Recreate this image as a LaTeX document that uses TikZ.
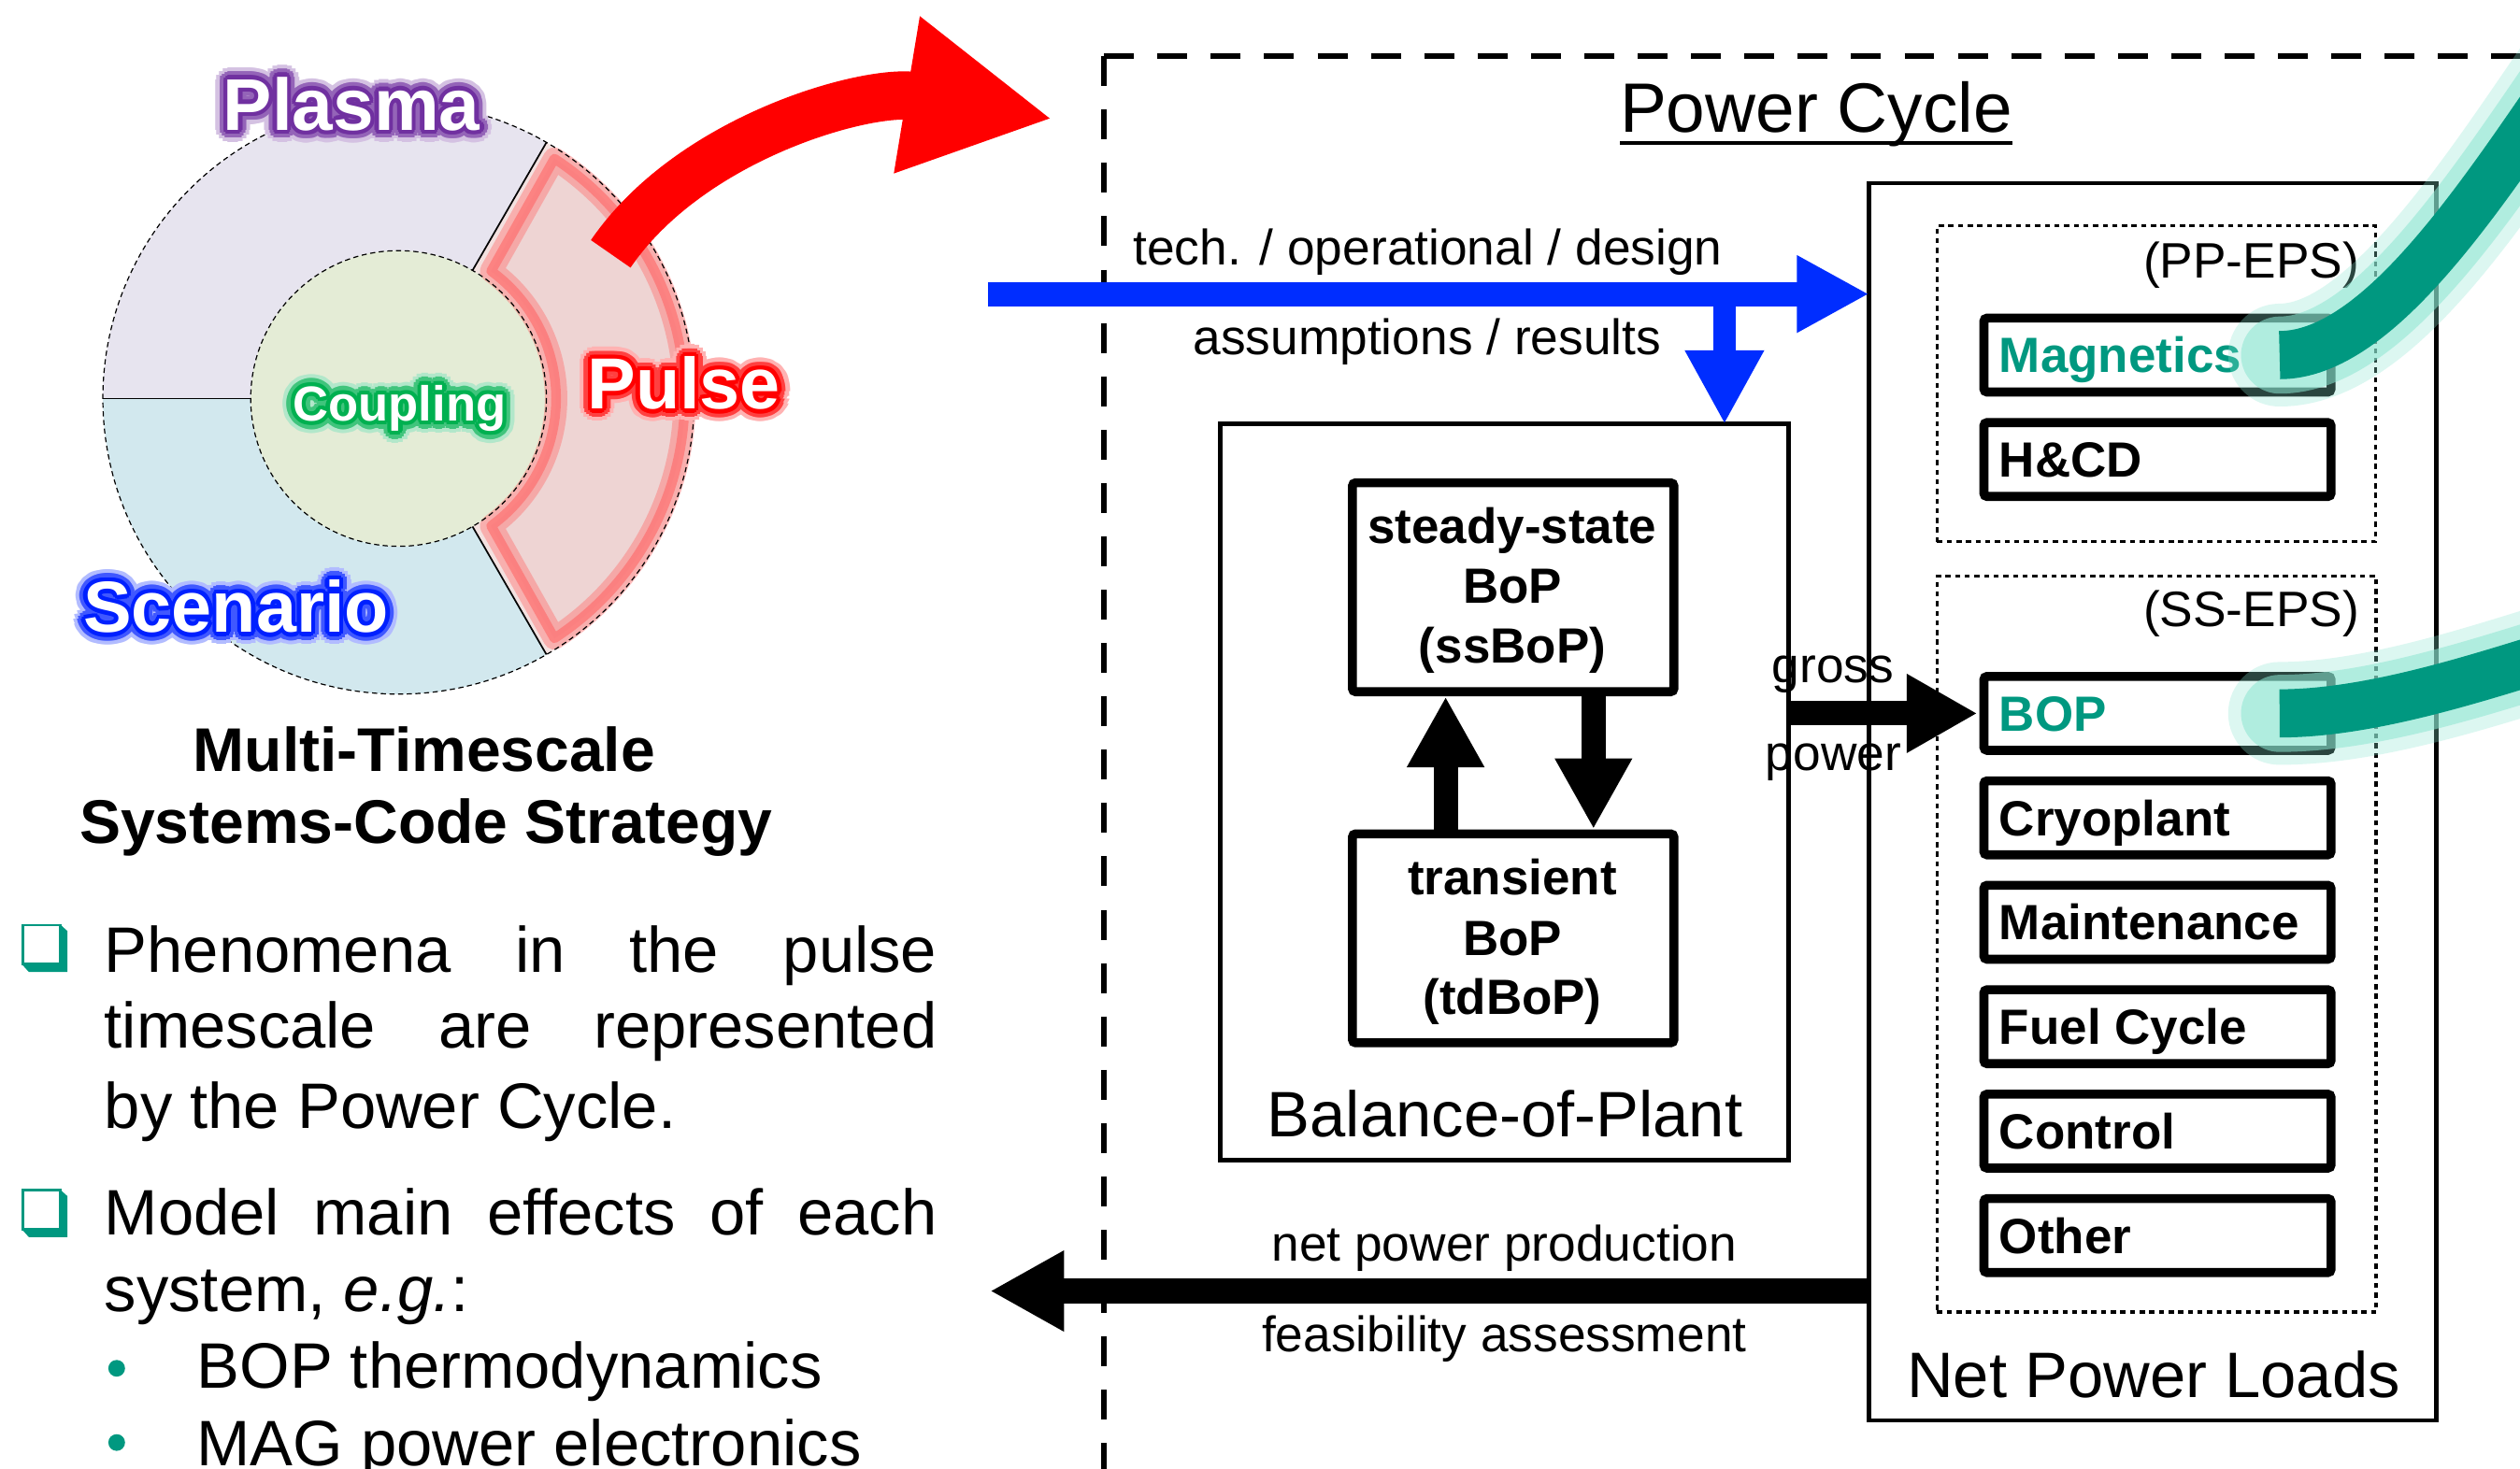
\documentclass[tikz,border=0pt]{standalone}
\usepackage{fontspec}
\setmainfont{Liberation Sans}
\usetikzlibrary{arrows.meta}
\newcommand{\fsz}[1]{\fontsize{#1pt}{#1pt}\selectfont}
\definecolor{teal1}{RGB}{0,152,128}
\definecolor{tealglow}{RGB}{140,230,210}
\definecolor{plasmafill}{RGB}{231,228,239}
\definecolor{scenfill}{RGB}{210,232,238}
\definecolor{coupfill}{RGB}{228,236,214}
\definecolor{pulsefill}{RGB}{238,212,211}
\definecolor{bluearrow}{RGB}{0,45,255}
\definecolor{plasmaglow}{RGB}{112,48,160}
\definecolor{coupglow}{RGB}{0,176,80}
\definecolor{pulseglow}{RGB}{255,0,0}
\definecolor{scenglow}{RGB}{0,32,255}
\newcommand{\glowlabel}[5]{%
  \foreach \gang in {0,22.5,...,337.5}{%
    \node[font=\bfseries\fsz{#4}, anchor=base, text=#3!30, shift={(\gang:3.8pt)}] at #2 {#5};
  }%
  \foreach \gang in {0,22.5,...,337.5}{%
    \node[font=\bfseries\fsz{#4}, anchor=base, text=#3!75, shift={(\gang:2.5pt)}] at #2 {#5};
  }%
  \foreach \gang in {0,30,...,330}{%
    \node[font=\bfseries\fsz{#4}, anchor=base, text=#3, shift={(\gang:1.3pt)}] at #2 {#5};
  }%
  \node[font=\bfseries\fsz{#4}, anchor=base, text=white] (#1) at #2 {#5};
}
\tikzset{
  every node/.style={inner sep=0pt, outer sep=0pt},
  lbl/.style={font=\fsz{15.5}, anchor=base},
  boxtxt/.style={font=\bfseries\fsz{15.4}, anchor=base},
  bigtxt/.style={font=\fsz{20}, anchor=base},
  btxt/.style={font=\fsz{20}, anchor=base west},
  loadlbl/.style={font=\bfseries\fsz{15.4}, anchor=base west},
  loadbox/.style={draw, line width=2.8pt, rounded corners=1pt, minimum width=108pt, minimum height=23pt},
  bopinner/.style={draw, line width=2.8pt, rounded corners=1pt, minimum width=100pt, minimum height=65pt},
  thinbox/.style={draw, line width=1.4pt},
  dotbox/.style={draw, line width=1.1pt, dash pattern=on 1.6pt off 1.4pt},
  pcframe/.style={line width=1.75pt, dash pattern=on 9.3pt off 7.3pt},
  dashthin/.style={line width=0.35pt, dash pattern=on 1.6pt off 1.1pt},
  bluearr/.style={bluearrow, line width=7.5pt, -{Triangle[length=22.5pt,width=22.5pt]}},
  bluearrdown/.style={bluearrow, line width=7pt, -{Triangle[length=23pt,width=23pt]}},
  blkarr/.style={black, line width=7.6pt, -{Triangle[length=22pt,width=23pt]}},
  vertarr/.style={black, line width=7.5pt, -{Triangle[length=22pt,width=22.5pt]}},
  redarr/.style={red, line width=15pt, -{Triangle[length=46pt,width=46pt]}},
  tealglowline/.style={tealglow, line cap=round},
  tealband/.style={teal1, line width=15pt},
}
\begin{document}
\begin{tikzpicture}[x=0.5pt,y=-0.5pt]
\useasboundingbox (0,0) rectangle (1568,914);
\clip (0,0) rectangle (1568,914);
\fill[white] (0,0) rectangle (1568,914);

% ---------------- left ring diagram ----------------
\begin{scope}[shift={(248,248)}]
  \fill[plasmafill] (180:184) arc[start angle=180,end angle=300,radius=184] -- (300:92) arc[start angle=300,end angle=180,radius=92] -- cycle;
  \fill[scenfill] (60:184) arc[start angle=60,end angle=180,radius=184] -- (180:92) arc[start angle=180,end angle=60,radius=92] -- cycle;
  \fill[pulsefill!70!white] (-60:184) arc[start angle=-60,end angle=60,radius=184] -- (60:92) arc[start angle=60,end angle=-60,radius=92] -- cycle;
  \fill[coupfill] (0,0) circle[radius=92];
  \draw[red!55!white, line width=7pt, opacity=0.45, line join=round, fill=pulsefill, fill opacity=1]
     (-57:178) arc[start angle=-57,end angle=57,radius=178] -- (54:98) arc[start angle=54,end angle=-54,radius=98] -- cycle;
  \draw[red!60!white, line width=3pt, opacity=0.6, line join=round]
     (-57:178) arc[start angle=-57,end angle=57,radius=178] -- (54:98) arc[start angle=54,end angle=-54,radius=98] -- cycle;
  \draw[dashthin] (0,0) circle[radius=184];
  \draw[dashthin] (0,0) circle[radius=92];
  \draw[line width=0.5pt] (180:92) -- (180:184);
  \draw[line width=0.5pt] (-60:92) -- (-60:184);
  \draw[line width=0.5pt] (60:92) -- (60:184);
\end{scope}

% red curved arrow
\coordinate (rtail) at (380,158);
\coordinate (rtip) at (655,74);
\draw[redarr] (rtail) .. controls (430,85) and (540,55) .. (rtip);

\glowlabel{plasma}{(218.7,81)}{plasmaglow}{22.8}{Plasma}
\glowlabel{coupling}{(248.6,262)}{coupglow}{15.3}{Coupling}
\glowlabel{pulse}{(425.6,254.6)}{pulseglow}{22.5}{Pulse}
\glowlabel{scenario}{(147,393.5)}{scenglow}{22.5}{Scenario}

% heading
\node[font=\bfseries\fsz{19.2}, anchor=base] (mts1) at (264,480) {Multi-Timescale};
\node[font=\bfseries\fsz{19.2}, anchor=base] (mts2) at (265,525) {Systems-Code Strategy};

% checkboxes and bullets
\foreach \yy in {575,740}{
  \begin{scope}[shift={(0,\yy)}]
    \draw[teal1, line width=0.8pt] (14.2,0.8) rectangle (37.5,25);
    \fill[teal1] (37,0) -- (42,4.5) -- (42,30) -- (18,30) -- (13.5,25) -- (37,25) -- cycle;
  \end{scope}
}
\fill[teal1] (72.6,851.6) circle[radius=5.2];
\fill[teal1] (72.6,897.8) circle[radius=5.2];

\node[btxt] (b1a) at (65,605) {\makebox[259pt][s]{Phenomena in the pulse}};
\node[btxt] (b1b) at (65,652) {\makebox[259pt][s]{timescale are represented}};
\node[btxt] (b1c) at (65,702) {by the Power Cycle.};
\node[btxt] (b2a) at (65,768.5) {\makebox[259pt][s]{Model main effects of each}};
\node[btxt] (b2b) at (65,816) {system, \textit{e.g.}:};
\node[btxt] (b3) at (122.5,864) {BOP thermodynamics};
\node[btxt] (b4) at (122.5,912) {MAG power electronics};

% ---------------- Power Cycle frame ----------------
\coordinate (pccorner) at (687,35);
\draw[pcframe] (pccorner) -- (1600,35);
\draw[pcframe] (pccorner) -- (687,950);
\node[font=\fsz{21.75}, anchor=base] (pc) at (1130,82.4) {Power Cycle};
\draw[line width=1pt] ([yshift=-3.3pt]pc.base west) -- ([yshift=-3.3pt]pc.base east);

% Balance of plant
\node[thinbox, line width=1.5pt, minimum width=176.7pt, minimum height=229pt] (bopbox) at (936,493) {};
\node[bopinner] (ss) at (941.5,365.5) {};
\node[bopinner] (td) at (941.5,584) {};
\node[boxtxt] (ss1) at (941,338) {steady-state};
\node[boxtxt] (ss2) at (941,375.4) {BoP};
\node[boxtxt] (ss3) at (941,412.5) {(ssBoP)};
\node[boxtxt] (td1) at (941,557) {transient};
\node[boxtxt] (td2) at (941,594.5) {BoP};
\node[boxtxt] (td3) at (941,631.6) {(tdBoP)};
\node[bigtxt] (bopt) at (936.4,707.6) {Balance-of-Plant};
\draw[vertarr, shorten >=1.5pt] ([xshift=-21pt]td.north) -- ([xshift=-21pt]ss.south);
\draw[vertarr, shorten >=1.5pt] ([xshift=25pt]ss.south) -- ([xshift=25pt]td.north);

% Net power loads
\node[thinbox, minimum width=176.5pt, minimum height=385pt] (npl) at (1339.5,499) {};
\node[dotbox, minimum width=136.4pt, minimum height=98.3pt] (ppeps) at (1341.7,238.8) {};
\node[dotbox, minimum width=136.6pt, minimum height=229pt] (sseps) at (1341.9,587.5) {};
\node[lbl, anchor=base east] (ppt) at (1468,172.8) {(PP-EPS)};
\node[lbl, anchor=base east] (sst) at (1468,389.7) {(SS-EPS)};
\node[bigtxt] (nplt) at (1340,870) {Net Power Loads};

\node[loadbox] (magn) at (1342.4,221) {};
\node[loadbox] (hcd) at (1342.4,286) {};
\node[loadbox] (bopl) at (1342.4,444) {};
\node[loadbox] (cryo) at (1342.4,509) {};
\node[loadbox] (maint) at (1342.4,574) {};
\node[loadbox] (fuel) at (1342.4,639) {};
\node[loadbox] (ctrl) at (1342.4,704) {};
\node[loadbox] (other) at (1342.4,769) {};
\node[loadlbl, text=teal1] (magnt) at (1244,232) {Magnetics};
\node[loadlbl] (hcdt) at (1244,297) {H\&CD};
\node[loadlbl, text=teal1] (boplt) at (1244,455) {BOP};
\node[loadlbl] (cryot) at (1244,520) {Cryoplant};
\node[loadlbl] (maintt) at (1244,585) {Maintenance};
\node[loadlbl] (fuelt) at (1244,650) {Fuel Cycle};
\node[loadlbl] (ctrlt) at (1244,715) {Control};
\node[loadlbl] (othert) at (1244,780) {Other};

% blue input arrow
\coordinate (techin) at (615,183);
\coordinate (brpt) at (1073,183);
\draw[bluearr] (techin) -- (techin -| npl.west);
\draw[bluearrdown] (brpt) -- (brpt |- bopbox.north);
\node[lbl] (tech) at (888.4,164.8) {tech. / operational / design};
\node[lbl] (assm) at (888,220.6) {assumptions / results};

% gross power
\draw[blkarr, shorten >=2pt] (bopbox.east |- bopl.west) -- (bopl.west);
\node[lbl] (gross) at (1140.4,424.7) {gross};
\node[lbl] (power) at (1140.7,479.5) {power};

% net power
\coordinate (netout) at (616,803.5);
\draw[blkarr, line width=7.8pt, -{Triangle[length=23pt,width=23.5pt]}] (npl.west |- netout) -- (netout);
\node[lbl] (netp) at (936,785) {net power production};
\node[lbl] (feas) at (936,841.4) {feasibility assessment};

% teal bands
\coordinate (tealend1) at (1600,40);
\coordinate (tealend2) at (1600,404);
\draw[tealglowline, line width=32pt, opacity=0.3] ([xshift=-16pt]magn.east) .. controls +(62,0) and +(-55,80) .. (tealend1);
\draw[tealglowline, line width=24pt, opacity=0.55] ([xshift=-16pt]magn.east) .. controls +(62,0) and +(-55,80) .. (tealend1);
\draw[tealband] ([xshift=-16pt]magn.east) .. controls +(62,0) and +(-55,80) .. (tealend1);
\draw[tealglowline, line width=32pt, opacity=0.3] ([xshift=-16pt]bopl.east) .. controls +(60,0) and +(-50,15) .. (tealend2);
\draw[tealglowline, line width=24pt, opacity=0.55] ([xshift=-16pt]bopl.east) .. controls +(60,0) and +(-50,15) .. (tealend2);
\draw[tealband] ([xshift=-16pt]bopl.east) .. controls +(60,0) and +(-50,15) .. (tealend2);
\end{tikzpicture}
\end{document}
